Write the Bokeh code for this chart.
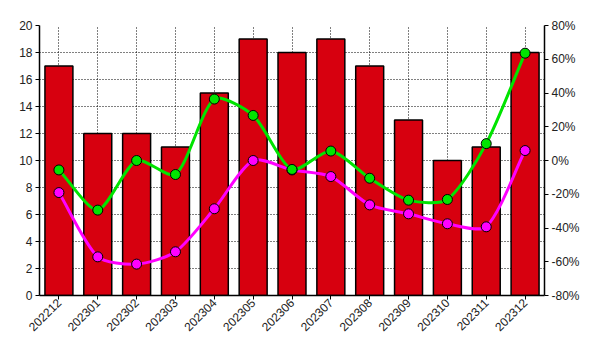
import math
from bokeh.plotting import figure
from bokeh.models import (Range1d, LinearAxis, FixedTicker, SingleIntervalTicker,
                          PrintfTickFormatter, Legend, LegendItem)
from bokeh.embed import file_html
from bokeh.resources import INLINE

# ---- data ----
months = ["202212", "202301", "202302", "202303", "202304", "202305", "202306",
          "202307", "202308", "202309", "202310", "202311", "202312"]
counts = [17, 12, 12, 11, 15, 19, 18, 19, 17, 13, 10, 11, 18]
yoy = [-19.0, -57.1, -61.4, -54.1, -28.6, 0.0, -5.6, -9.5, -26.3, -31.6, -37.5, -39.3, 5.9]
mom = [-5.6, -29.4, 0.0, -8.3, 36.4, 26.7, -5.3, 5.6, -10.5, -23.5, -23.1, 10.0, 63.6]
left_ticks = list(range(0, 21, 2))

# ---- layout ----
FW, FH = 505, 270
XR = (-0.5, len(months) - 0.5)
YR = (0, 20)
PR = (-80, 80)
FONT = "Liberation Sans"
CJK = "Noto Sans CJK SC"
RED = "#D7000F"
MAG = "#FF00FF"
GRN = "#00E400"

p = figure(frame_width=FW, frame_height=FH, output_backend="svg", toolbar_location=None,
           x_range=Range1d(*XR), y_range=Range1d(*YR),
           min_border_left=39, min_border_right=45, min_border_top=25, min_border_bottom=0)
p.extra_y_ranges = {"pct": Range1d(*PR)}
p.outline_line_color = None
p.background_fill_color = "white"

xs = list(range(len(months)))

# bars
bars = p.vbar(x=xs, top=counts, width=0.72, fill_color=RED, line_color="black", line_width=1.5)


def smooth_segments(xv, yv, sx, sy, smooth=0.25):
    P = [(x * sx, y * sy) for x, y in zip(xv, yv)]
    n = len(P)
    cps = []
    for i in range(n):
        cur = P[i]
        prev = P[i - 1] if i > 0 else cur
        nxt = P[i + 1] if i < n - 1 else cur
        vx, vy = nxt[0] - prev[0], nxt[1] - prev[1]
        d0 = math.hypot(cur[0] - prev[0], cur[1] - prev[1])
        d1 = math.hypot(nxt[0] - cur[0], nxt[1] - cur[1])
        s = d0 + d1
        r0 = smooth * d0 / s if s else 0
        r1 = smooth * d1 / s if s else 0
        cps.append(((cur[0] - vx * r0, cur[1] - vy * r0), (cur[0] + vx * r1, cur[1] + vy * r1)))
    seg = dict(x0=[], y0=[], x1=[], y1=[], cx0=[], cy0=[], cx1=[], cy1=[])
    for i in range(n - 1):
        seg["x0"].append(P[i][0] / sx); seg["y0"].append(P[i][1] / sy)
        seg["x1"].append(P[i + 1][0] / sx); seg["y1"].append(P[i + 1][1] / sy)
        seg["cx0"].append(cps[i][1][0] / sx); seg["cy0"].append(cps[i][1][1] / sy)
        seg["cx1"].append(cps[i + 1][0][0] / sx); seg["cy1"].append(cps[i + 1][0][1] / sy)
    return seg


sx = FW / (XR[1] - XR[0])
sy = FH / (PR[1] - PR[0])

curves = []
for vals, col in ((yoy, MAG), (mom, GRN)):
    seg = smooth_segments(xs, vals, sx, sy)
    curves.append(p.bezier(source=seg, x0="x0", y0="y0", x1="x1", y1="y1", cx0="cx0", cy0="cy0",
                           cx1="cx1", cy1="cy1", line_color=col, line_width=3, y_range_name="pct"))

yoy_pts = p.scatter(xs, yoy, size=10, fill_color=MAG, line_color="black", line_width=1,
                    y_range_name="pct")
mom_pts = p.scatter(xs, mom, size=10, fill_color=GRN, line_color="black", line_width=1,
                    y_range_name="pct")

# axes
p.xaxis.ticker = FixedTicker(ticks=xs)
p.xaxis.major_label_overrides = {i: m for i, m in enumerate(months)}
p.xaxis.major_label_orientation = math.pi / 4
p.yaxis.ticker = FixedTicker(ticks=left_ticks)

right = LinearAxis(y_range_name="pct", ticker=SingleIntervalTicker(interval=20),
                   formatter=PrintfTickFormatter(format="%d%%"))
p.add_layout(right, "right")

for ax in p.axis:
    ax.axis_line_color = "black"
    ax.axis_line_width = 1.5
    ax.major_tick_line_color = "black"
    ax.major_tick_in = 0
    ax.major_tick_out = 4
    ax.minor_tick_line_color = None
    ax.major_label_text_font = FONT
    ax.major_label_text_font_size = "12px"
    ax.major_label_text_color = "#222222"
    ax.major_label_standoff = 3
p.xaxis.major_label_standoff = 1

p.xgrid.ticker = FixedTicker(ticks=xs)
p.ygrid.ticker = FixedTicker(ticks=left_ticks)
for g in (p.xgrid, p.ygrid):
    g.grid_line_color = "black"
    g.grid_line_dash = "1 2"
    g.grid_line_width = 1

# legend
leg = Legend(items=[LegendItem(label="同比", renderers=[curves[0], yoy_pts]),
                    LegendItem(label="环比", renderers=[curves[1], mom_pts]),
                    LegendItem(label="公司数量", renderers=[bars])],
             orientation="horizontal", location="top_left")
leg.glyph_width = 24
leg.glyph_height = 14
leg.label_height = 14
leg.label_text_font = CJK
leg.label_text_font_size = "12px"
leg.label_standoff = 3
leg.spacing = 22
leg.padding = 0
leg.margin = 4
leg.border_line_color = None
leg.background_fill_alpha = 0
p.add_layout(leg, "below")

open("out.html", "w").write(file_html(p, INLINE))
